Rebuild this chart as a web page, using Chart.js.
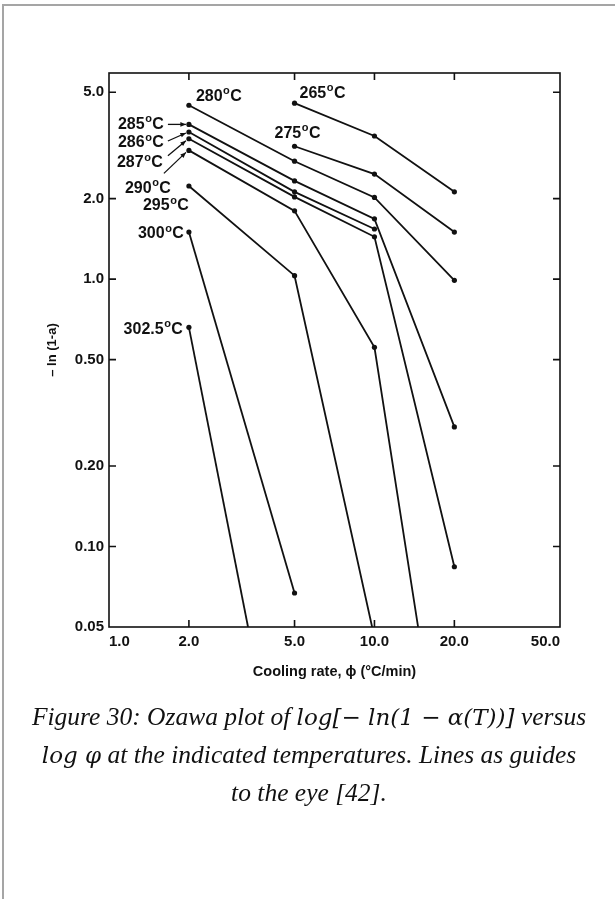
<!DOCTYPE html>
<html>
<head>
<meta charset="utf-8">
<script src="https://cdn.jsdelivr.net/npm/chart.js@4.4.1/dist/chart.umd.min.js"></script>
<style>
  body { margin: 0; background: #fff; width: 615px; height: 899px; position: relative; overflow: hidden; }
  #page { position: absolute; left: 2px; top: 4px; width: 640px; height: 920px; border-top: 2px solid #a5a5a5; border-left: 2px solid #a5a5a5; }
  #chart { position: absolute; left: 0; top: 0; }
  #caption { position: absolute; left: 4px; width: 610px; top: 698px; text-align: center;
    font-family: "Liberation Serif", serif; font-style: italic; font-size: 25.5px; line-height: 37px; color: #111; }
  #caption .m { font-family: "DejaVu Serif", serif; font-size: 23px; }
</style>
</head>
<body>
<div id="page"></div>
<canvas id="chart" width="615" height="700"></canvas>
<div id="caption">Figure 30: Ozawa plot of <span class="m">log[− ln(1 − α(T))]</span> versus<br><span class="m">log φ</span> at the indicated temperatures. Lines as guides<br>to the eye [42].</div>
<script>
// cooling rates (degC/min) where points were measured
const rates = [2, 5, 10, 20];
const temps = ['265', '275', '280', '285', '286', '287', '290', '295', '300', '302.5'];
// -ln(1-a), one array per temperature (null = no point)
const v265 = [null, 4.55, 3.43, 2.12];
const v275 = [null, 3.14, 2.47, 1.50];
const v280 = [4.47, 2.76, 2.02, 0.99];
const v285 = [3.79, 2.33, 1.68, 0.28];
const v286 = [3.55, 2.12, 1.54, null];
const v287 = [3.35, 2.03, 1.44, 0.084];
const v290 = [3.03, 1.80, 0.556, null];
const v295 = [2.23, 1.03, null, null];
const v300 = [1.50, 0.067, null, null];
const v302 = [0.66, null, null, null];
// cooling rate where a line runs out through the bottom of the plot
const exitRates = [null, null, null, null, null, null, 14.6, 9.8, null, 3.34];

const xTicks = [1, 2, 5, 10, 20, 50];
const xTickLabels = ['1.0', '2.0', '5.0', '10.0', '20.0', '50.0'];
const yTicks = [0.05, 0.1, 0.2, 0.5, 1, 2, 5];
const yTickLabels = ['0.05', '0.10', '0.20', '0.50', '1.0', '2.0', '5.0'];
const yMin = 0.05;
const yMax = 5.9;

const series = [v265, v275, v280, v285, v286, v287, v290, v295, v300, v302];

// where each temperature label sits, relative to the line's first point
const labelSpots = [
  {dx: 5, dy: -10, align: 'left'},
  {dx: -20, dy: -13, align: 'left'},
  {dx: 7, dy: -9, align: 'left'},
  {dx: -25, dy: 0, align: 'right', arrow: [-21, 0, -3, 0]},
  {dx: -25, dy: 11, align: 'right', arrow: [-21, 9, -3, 1]},
  {dx: -26, dy: 24, align: 'right', arrow: [-21, 17, -3, 2]},
  {dx: -18, dy: 38, align: 'right', arrow: [-25, 23, -3, 2]},
  {dx: 0, dy: 20, align: 'right'},
  {dx: -5, dy: 2, align: 'right'},
  {dx: -6, dy: 2, align: 'right'},
];

const ink = '#111';
const boldSans = {family: 'Liberation Sans', size: 15, weight: 'bold'};

const datasets = series.map((vals, i) => {
  const pts = [];
  rates.forEach((r, j) => {
    if (vals[j] != null) pts.push({x: r, y: vals[j]});
  });
  if (exitRates[i] != null) pts.push({x: exitRates[i], y: yMin});
  return {
    label: temps[i] + '°C',
    data: pts,
    borderColor: ink,
    borderWidth: 1.8,
    pointRadius: pts.map((p, k) => (exitRates[i] != null && k == pts.length - 1) ? 0 : 2.6),
    pointBackgroundColor: ink,
    pointBorderWidth: 0,
    tension: 0,
    fill: false
  };
});

function drawTemp(ctx, t, x, y, align) {
  const big = 'bold 16px "Liberation Sans"';
  const small = 'bold 11px "Liberation Sans"';
  ctx.font = big;
  const w1 = ctx.measureText(t).width;
  const w3 = ctx.measureText('C').width;
  ctx.font = small;
  const w2 = ctx.measureText('o').width + 1;
  let sx = align == 'right' ? x - (w1 + w2 + w3) : x;
  ctx.textAlign = 'left';
  ctx.textBaseline = 'middle';
  ctx.font = big;
  ctx.fillText(t, sx, y);
  ctx.font = small;
  ctx.fillText('o', sx + w1 + 0.5, y - 5);
  ctx.font = big;
  ctx.fillText('C', sx + w1 + w2, y);
}

const framePlugin = {
  id: 'framePlugin',
  afterDatasetsDraw(chart) {
    const {ctx, chartArea: a, scales: {x, y}} = chart;
    ctx.save();
    ctx.strokeStyle = ink;
    ctx.lineWidth = 1.6;
    ctx.strokeRect(a.left, a.top, a.right - a.left, a.bottom - a.top);
    const len = 7;
    ctx.beginPath();
    xTicks.forEach(v => {
      if (v <= x.min || v >= x.max) return;
      const px = x.getPixelForValue(v);
      ctx.moveTo(px, a.bottom); ctx.lineTo(px, a.bottom - len);
      ctx.moveTo(px, a.top); ctx.lineTo(px, a.top + len);
    });
    yTicks.forEach(v => {
      if (v <= y.min || v >= y.max) return;
      const py = y.getPixelForValue(v);
      ctx.moveTo(a.left, py); ctx.lineTo(a.left + len, py);
      ctx.moveTo(a.right, py); ctx.lineTo(a.right - len, py);
    });
    ctx.stroke();

    ctx.fillStyle = ink;
    ctx.lineWidth = 1.3;
    temps.forEach((t, i) => {
      const p = chart.getDatasetMeta(i).data[0];
      const s = labelSpots[i];
      drawTemp(ctx, t, p.x + s.dx, p.y + s.dy, s.align);
      if (s.arrow) {
        const [x1, y1, x2, y2] = s.arrow;
        const ax = p.x + x2, ay = p.y + y2;
        ctx.beginPath();
        ctx.moveTo(p.x + x1, p.y + y1);
        ctx.lineTo(ax, ay);
        ctx.stroke();
        const ang = Math.atan2(y2 - y1, x2 - x1);
        ctx.beginPath();
        ctx.moveTo(ax, ay);
        ctx.lineTo(ax - 6 * Math.cos(ang - 0.4), ay - 6 * Math.sin(ang - 0.4));
        ctx.lineTo(ax - 6 * Math.cos(ang + 0.4), ay - 6 * Math.sin(ang + 0.4));
        ctx.closePath();
        ctx.fill();
      }
    });
    ctx.restore();
  }
};

new Chart(document.getElementById('chart'), {
  type: 'line',
  data: {datasets: datasets},
  options: {
    responsive: false,
    animation: false,
    devicePixelRatio: 1,
    layout: {padding: {left: 0, top: 73, right: 55, bottom: 0}},
    plugins: {legend: {display: false}, tooltip: {enabled: false}},
    scales: {
      x: {
        type: 'logarithmic',
        min: 1,
        max: 50,
        afterBuildTicks: s => { s.ticks = xTicks.map(v => ({value: v})); },
        afterFit: s => { s.height = 73; },
        grid: {display: false, drawTicks: false},
        border: {display: false},
        ticks: {
          align: 'inner', padding: 6, color: ink, font: boldSans,
          autoSkip: false, maxRotation: 0,
          callback: v => xTickLabels[xTicks.indexOf(v)]
        },
        title: {
          display: true, text: 'Cooling rate, ϕ (°C/min)', color: ink,
          font: {family: 'Liberation Sans', size: 14.5, weight: 'bold'},
          padding: {top: 0, bottom: 19}
        }
      },
      y: {
        type: 'logarithmic',
        min: yMin,
        max: yMax,
        afterBuildTicks: s => { s.ticks = yTicks.map(v => ({value: v})); },
        afterFit: s => { s.width = 109; },
        grid: {display: false, drawTicks: false},
        border: {display: false},
        ticks: {
          padding: 5, color: ink, font: boldSans, autoSkip: false,
          callback: v => yTickLabels[yTicks.indexOf(v)]
        },
        title: {
          display: true, text: '– ln (1-a)', color: ink,
          font: {family: 'Liberation Sans', size: 13, weight: 'bold'},
          padding: {top: 45, bottom: 0}
        }
      }
    }
  },
  plugins: [framePlugin]
});
</script>
</body>
</html>
